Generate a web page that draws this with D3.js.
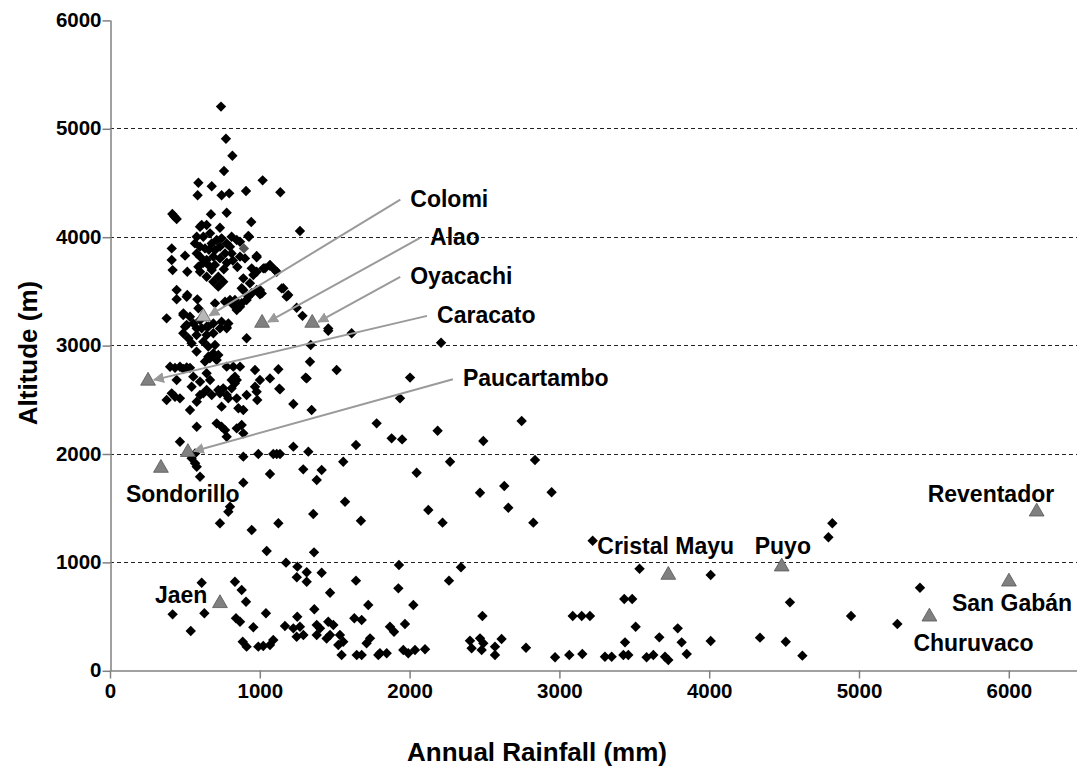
<!DOCTYPE html>
<html>
<head>
<meta charset="utf-8">
<script src="https://cdn.jsdelivr.net/npm/d3@7"></script>
<style>
  html, body { margin: 0; padding: 0; background: #fff; }
  svg { display: block; }
  text { font-family: "Liberation Sans", Arial, sans-serif; font-weight: bold; }
</style>
</head>
<body>
<svg id="chart" width="1077" height="776"></svg>
<script>
// ---- Data ----
const rainfall = [
  741,774,817,761,590,679,1019,585,745,796,908,1137,416,445,430,674,779,943,1268,923,734,612,601,645,668,
  579,623,567,601,634,679,712,745,701,734,779,812,846,801,768,601,645,690,579,734,812,868,928,979,1068,1113,1024,868,901,
  412,412,418,501,516,601,645,690,723,590,679,723,756,946,979,1035,1068,1101,957,979,656,623,700,760,780,820,850,660,
  445,516,583,701,768,823,846,890,923,979,1013,934,1146,1179,1246,1285,1457,378,490,534,556,601,645,690,734,779,790,501,579,
  489,512,489,523,545,578,612,656,690,645,623,656,701,779,912,879,845,834,879,946,1001,890,1157,1190,445,512,590,801,868,912,1001,745,846,1613,1340,
  690,667,578,634,723,656,712,401,434,467,490,512,534,445,434,467,378,412,534,579,556,601,545,645,668,623,601,645,679,723,756,734,779,
  812,846,812,779,823,868,834,834,790,846,857,890,912,968,968,1001,979,1068,1124,1135,1224,1313,1335,1513,1346,745,779,579,712,745,768,846,879,890,
  467,983,1130,1780,1880,1950,1936,2003,2187,2492,2748,1642,2210,1457,1306,
  568,545,568,579,601,890,990,1090,1113,1135,1224,1324,1068,1290,1413,1380,1557,890,801,790,734,946,1124,1357,1569,1675,
  2047,2270,2837,2125,2470,2632,2659,2948,2220,2826,3222,4822,4796,1046,1362,
  1175,1251,1247,1313,1313,1413,612,834,879,908,1469,1642,1724,1925,1929,2343,2263,2025,
  418,630,539,841,868,957,1041,1364,1168,1250,1224,1268,1291,1246,1380,1402,1457,1491,1380,1469,1446,1535,1557,1524,1546,
  1631,1680,1736,1713,1647,1680,1791,1847,1869,1896,1969,886,912,990,1023,1090,1068,1802,1958,1991,2036,2103,
  2486,3535,3089,3149,3204,3433,3486,3509,3790,3667,3438,3816,2403,2414,2470,2481,2570,2570,2614,2492,2777,2971,3066,3153,
  3304,3349,3427,3460,3582,3627,3705,3727,3850,4010,4539,4947,5256,5407,4010,4339,4511,4622
];
const altitude = [
  5200,4904,4747,4606,4498,4465,4520,4382,4382,4400,4422,4410,4209,4163,4186,4207,4221,4136,4053,4007,4083,4108,4092,4108,4031,
  4000,4000,3938,3908,3892,3938,3969,3985,3877,3908,3938,4000,3969,3908,3846,3816,3785,3816,3846,3800,3846,3954,4000,3822,3732,3677,3708,3816,3800,
  3892,3785,3692,3825,3677,3677,3631,3585,3539,3723,3692,3631,3585,3708,3677,3709,3739,3693,3647,3810,3740,3760,3740,3700,3760,3780,3720,3880,
  3508,3462,3422,3385,3400,3370,3324,3508,3447,3508,3477,3570,3523,3447,3345,3270,3154,3247,3293,3262,3200,3231,3170,3200,3154,3164,3200,3170,3154,
  3278,3185,3109,3063,3017,3093,3155,3170,3109,3093,3032,2986,3001,3155,3063,3386,3355,3416,3524,3478,3469,3616,3524,3462,3423,3446,3340,3416,3354,3416,3508,3216,3354,3109,3001,
  2924,2878,2940,2848,2909,2893,2862,2800,2790,2800,2780,2795,2790,2678,2524,2509,2494,2555,2401,2478,2709,2662,2616,2740,2678,2555,2540,2586,2540,2586,2601,2555,2540,
  2678,2678,2601,2801,2801,2801,2709,2647,2509,2509,2417,2401,2540,2770,2616,2678,2570,2693,2777,2592,2457,2693,2847,2770,2401,2432,2155,2247,2278,2247,2216,2232,2263,2186,
  2109,2493,2598,2278,2140,2130,2509,2700,2210,2115,2300,2078,3022,3133,2700,
  2001,1956,1910,1878,1786,1971,1995,1995,1995,1995,2063,2017,1811,1854,1848,1755,1924,1731,1509,1463,1356,1294,1356,1442,1555,1380,
  1823,1924,1940,1479,1638,1700,1500,1642,1362,1362,1195,1356,1227,1101,1088,
  993,956,858,904,817,900,808,817,741,633,716,827,602,756,971,950,827,602,
  516,526,363,480,448,397,526,563,409,494,387,402,326,310,418,387,448,418,326,326,294,326,264,233,141,
  480,464,295,249,141,141,141,157,402,356,427,264,218,218,224,279,233,157,187,157,187,194,
  501,937,501,501,501,658,658,402,387,304,258,258,273,203,295,187,218,141,289,249,208,120,141,150,
  125,125,141,141,120,141,125,95,150,879,627,501,427,762,270,301,264,135
];
// one grey-filled point inside the main cluster
const greyRain = [894];
const greyAlt = [3892];

// Named sites (triangles)
const siteNames = ["Colomi","Alao","Oyacachi","Caracato","Paucartambo","Sondorillo","Jaen","Cristal Mayu","Puyo","Reventador","San Gabán","Churuvaco"];
const siteRain  = [623, 1015, 1350, 254, 520, 340, 734, 3727, 4484, 6186, 6001, 5470];
const siteAlt   = [3262, 3204, 3204, 2670, 2012, 1866, 618, 879, 956, 1463, 817, 494];

// Tick values
const xTicks = [0,1000,2000,3000,4000,5000,6000];
const yTicks = [0,1000,2000,3000,4000,5000,6000];

// Label layout (pixel offsets from each triangle; arrow = drawn leader line)
const labelLayout = [
  {dx: 207, dy: -118, arrow: true},
  {dx: 168, dy: -86,  arrow: true},
  {dx: 98,  dy: -47,  arrow: true},
  {dx: 289, dy: -66,  arrow: true},
  {dx: 275, dy: -74,  arrow: true},
  {dx: -35, dy: 26,   arrow: false},
  {dx: -65, dy: -8,   arrow: false},
  {dx: -71, dy: -29,  arrow: false},
  {dx: -27, dy: -21,  arrow: false},
  {dx: -109,dy: -18,  arrow: false},
  {dx: -57, dy: 21,   arrow: false},
  {dx: -16, dy: 26,   arrow: false}
];

// ---- Chart ----
const svg = d3.select("#chart");
const x = d3.scaleLinear().domain([0, 6500]).range([110, 1083.7]);
const y = d3.scaleLinear().domain([0, 6000]).range([670.3, 19.9]);

// defs: arrow marker
svg.append("defs").append("marker")
  .attr("id", "arrowhead")
  .attr("viewBox", "0 0 10 10")
  .attr("refX", 9).attr("refY", 5)
  .attr("markerWidth", 5.5).attr("markerHeight", 5.5)
  .attr("markerUnits", "strokeWidth")
  .attr("orient", "auto")
  .append("path").attr("d", "M0,0 L10,5 L0,10 z").attr("fill", "#9a9a9a");

// gridlines
svg.append("g").selectAll("line")
  .data(yTicks.filter(v => v > 0 && v < 6000))
  .join("line")
  .attr("x1", x(0)).attr("x2", x(6500))
  .attr("y1", d => Math.round(y(d)) + 0.5).attr("y2", d => Math.round(y(d)) + 0.5)
  .attr("stroke", "#222").attr("stroke-width", 1)
  .attr("stroke-dasharray", "4,3");

// axes
const xAxis = d3.axisBottom(x).tickValues(xTicks).tickSize(8).tickSizeOuter(0).tickPadding(5).tickFormat(d3.format("d"));
const yAxis = d3.axisLeft(y).tickValues(yTicks).tickSize(8).tickSizeOuter(0).tickPadding(1).tickFormat(d3.format("d"));

const gx = svg.append("g").attr("transform", `translate(0,${Math.round(y(0)) + 0.5})`).call(xAxis);
const gy = svg.append("g").attr("transform", `translate(${Math.round(x(0)) + 0.5},0)`).call(yAxis);
[gx, gy].forEach(g => {
  g.select(".domain").attr("stroke", "#808080").attr("stroke-width", 1.5);
  g.selectAll(".tick line").attr("stroke", "#808080").attr("stroke-width", 1.5);
  g.selectAll(".tick text").attr("fill", "#000").style("font-size", "20.5px").style("font-weight", "bold")
    .style("font-family", '"Liberation Sans", Arial, sans-serif');
});
gy.selectAll(".tick line").attr("y1", 0.5).attr("y2", 0.5);

// axis titles
svg.append("text")
  .attr("x", 537).attr("y", 752)
  .attr("text-anchor", "middle").attr("dominant-baseline", "central")
  .style("font-size", "26px").text("Annual Rainfall (mm)");
svg.append("text")
  .attr("transform", "translate(28,353) rotate(-90)")
  .attr("text-anchor", "middle").attr("dominant-baseline", "central")
  .style("font-size", "26px").text("Altitude (m)");

// diamonds
const diamond = d3.symbol().type(d3.symbolSquare).size(54);
const pts = rainfall.map((r, i) => ({r, a: altitude[i]}));
svg.append("g").selectAll("path")
  .data(pts).join("path")
  .attr("d", diamond)
  .attr("transform", d => `translate(${x(d.r)},${y(d.a)}) rotate(45)`)
  .attr("fill", "#000");

svg.append("g").selectAll("path")
  .data(greyRain.map((r, i) => ({r, a: greyAlt[i]}))).join("path")
  .attr("d", diamond)
  .attr("transform", d => `translate(${x(d.r)},${y(d.a)}) rotate(45)`)
  .attr("fill", "#555");

// triangles
const tri = d3.symbol().type(d3.symbolTriangle).size(95);
const sites = siteNames.map((n, i) => ({n, r: siteRain[i], a: siteAlt[i], L: labelLayout[i]}));
svg.append("g").selectAll("path")
  .data(sites).join("path")
  .attr("d", tri)
  .attr("transform", d => `translate(${x(d.r)},${y(d.a)})`)
  .attr("fill", (d, i) => i === 0 ? "#b8b8b8" : "#808080")
  .attr("stroke", "#555").attr("stroke-width", 0.8);

// leader arrows
svg.append("g").selectAll("line")
  .data(sites.filter(d => d.L.arrow)).join("line")
  .attr("x1", d => x(d.r) + d.L.dx - 10)
  .attr("y1", d => y(d.a) + d.L.dy + 1)
  .attr("x2", d => x(d.r) + 6)
  .attr("y2", d => y(d.a) - 1)
  .attr("stroke", "#9a9a9a").attr("stroke-width", 2)
  .attr("marker-end", "url(#arrowhead)");

// labels
svg.append("g").selectAll("text")
  .data(sites).join("text")
  .attr("x", d => x(d.r) + d.L.dx)
  .attr("y", d => y(d.a) + d.L.dy)
  .attr("dominant-baseline", "central")
  .style("font-size", "23px")
  .attr("fill", "#000")
  .text(d => d.n);
</script>
</body>
</html>
